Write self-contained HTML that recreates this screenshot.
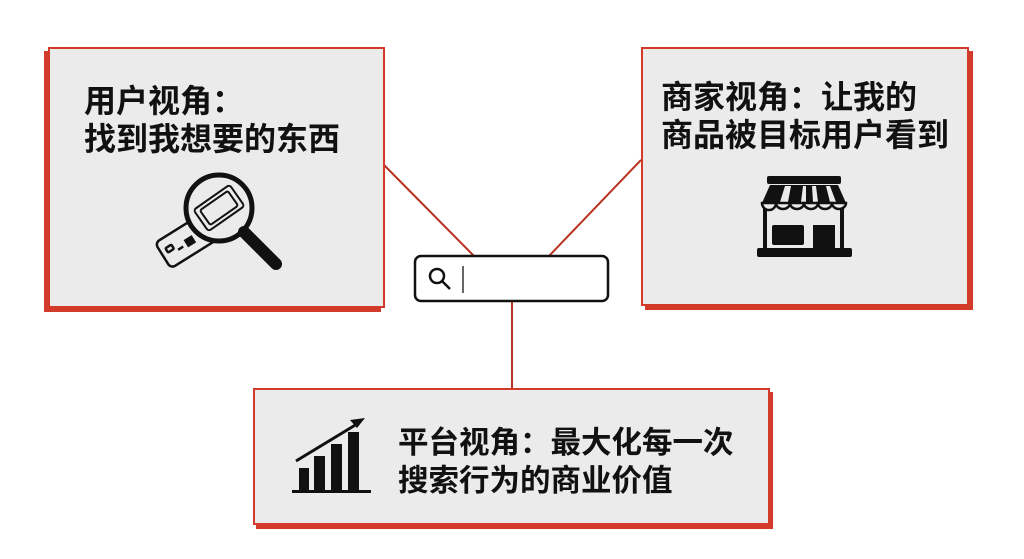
<!DOCTYPE html>
<html><head><meta charset="utf-8"><style>
body{margin:0;width:1024px;height:559px;background:#fff;position:relative;overflow:hidden;font-family:"Liberation Sans","Noto Sans CJK SC",sans-serif}
.box{position:absolute;background:#ebebeb;border:2px solid #d23a2a;box-sizing:border-box}
.t{position:absolute;font-weight:bold;font-size:32px;line-height:38px;color:#111;white-space:nowrap;font-family:"Noto Sans CJK SC",sans-serif}
svg{position:absolute;left:0;top:0}
</style></head><body>
<svg width="1024" height="559">
<line x1="384" y1="165" x2="474" y2="256" stroke="#b8321f" stroke-width="2"/>
<line x1="641" y1="160" x2="549" y2="256" stroke="#b8321f" stroke-width="2"/>
<line x1="512" y1="301" x2="512" y2="389" stroke="#b8321f" stroke-width="2"/>
</svg>
<div class="box" style="left:48px;top:47px;width:337px;height:261px;box-shadow:-4px 4px 0 #d23a2a"></div>
<div class="box" style="left:641px;top:47px;width:328px;height:259px;box-shadow:4px 4px 0 #d23a2a"></div>
<div class="box" style="left:253px;top:388px;width:517px;height:137px;box-shadow:3px 4px 0 #d23a2a"></div>
<div class="t" style="left:84px;top:80px">用户视角：<br>找到我想要的东西</div>
<div class="t" style="left:661px;top:76px">商家视角：让我的<br>商品被目标用户看到</div>
<div class="t" style="left:398px;top:421px;font-size:30.5px">平台视角：最大化每一次<br>搜索行为的商业价值</div>
<svg width="1024" height="559">
<rect x="415" y="256" width="193" height="45" rx="6" fill="#fff" stroke="#111" stroke-width="2.5"/>
<circle cx="437" cy="276" r="7" fill="none" stroke="#111" stroke-width="2.5"/>
<line x1="442" y1="281" x2="450" y2="289" stroke="#111" stroke-width="2.5"/>
<line x1="463" y1="266" x2="463" y2="293" stroke="#333" stroke-width="1.5"/>
<g transform="translate(155,243) rotate(-32)" fill="none" stroke="#111" stroke-width="2.5">
<rect x="0" y="0" width="80" height="30" rx="5"/>
<rect x="6" y="10" width="7" height="5" rx="1"/>
<line x1="16" y1="18" x2="22" y2="18"/>
<rect x="27" y="14" width="7" height="6" fill="#111"/>
</g>
<circle cx="219" cy="208" r="33" fill="#ebebeb" stroke="#111" stroke-width="5"/>
<g transform="translate(219,208) rotate(-35)" fill="none" stroke="#111" stroke-width="2">
<rect x="-22" y="-13" width="44" height="26" rx="3"/>
<rect x="-17" y="-9" width="34" height="18" rx="2"/>
</g>
<line x1="244" y1="232" x2="276" y2="264" stroke="#111" stroke-width="12" stroke-linecap="round"/>
<g fill="#111">
<rect x="767" y="176" width="74" height="8" rx="2"/>
<path d="M762 203 L770 185 L838 185 L846 203 Z"/>
<rect x="757" y="248" width="95" height="9" rx="2"/>
<rect x="763" y="203" width="4" height="46"/><rect x="840" y="203" width="4" height="46"/>
<rect x="772" y="225" width="32" height="20" rx="2"/>
<rect x="813" y="225" width="22" height="25"/>
</g>
<g fill="#ebebeb"><path d="M785 186 L780 202 L788 202 L791 186Z"/><path d="M803 186 L801 202 L806 202 L806 186Z"/><path d="M812 186 L813 202 L818 202 L816 186Z"/><path d="M826 186 L830 202 L836 202 L830 186Z"/></g>
<g fill="#ebebeb" stroke="#111" stroke-width="2.5"><path d="M762 203 a6 6 0 0 0 14 0Z"/><path d="M776 203 a7 6 0 0 0 14 0Z"/><path d="M790 203 a7 6 0 0 0 14 0Z"/><path d="M804 203 a7 6 0 0 0 14 0Z"/><path d="M818 203 a7 6 0 0 0 14 0Z"/><path d="M832 203 a7 6 0 0 0 14 0Z"/></g>
<g fill="#111">
<rect x="299" y="468" width="10" height="23"/><rect x="314" y="456" width="11" height="35"/><rect x="331" y="444" width="11" height="47"/><rect x="348" y="432" width="11" height="59"/>
<rect x="292" y="490" width="79" height="3"/>
<path d="M365 418 L350 420 L357 428 Z"/>
</g>
<line x1="296" y1="461" x2="357" y2="424" stroke="#111" stroke-width="3"/>
</svg>
</body></html>
